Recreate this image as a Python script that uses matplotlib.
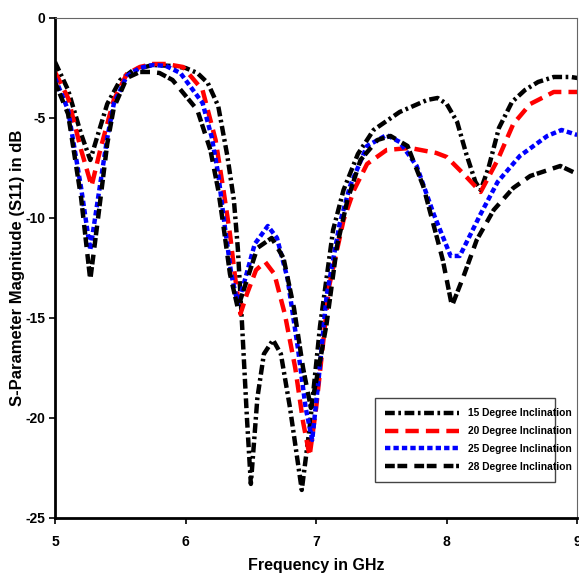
import matplotlib
matplotlib.use('Agg')
import matplotlib.pyplot as plt

plt.rcParams['axes.unicode_minus'] = False

# S11 readings for each inclination angle
f15 = [5.0, 5.1, 5.2, 5.27, 5.33, 5.4, 5.5, 5.6, 5.75, 5.9, 6.0, 6.09, 6.17, 6.25, 6.32, 6.37, 6.4, 6.43,
       6.47, 6.5, 6.55, 6.6, 6.67, 6.73, 6.8, 6.89, 6.95, 7.03, 7.13, 7.21, 7.32, 7.44, 7.64, 7.85, 7.93,
       8.0, 8.08, 8.15, 8.22, 8.26, 8.32, 8.4, 8.5, 8.6, 8.7, 8.82, 8.95, 9.0]
s15 = [-2.2, -3.6, -5.8, -7.1, -5.8, -4.3, -3.1, -2.6, -2.35, -2.4, -2.5, -2.75, -3.25, -4.4, -6.9, -9.1, -11.5, -15.0,
       -20.0, -23.3, -19.0, -16.8, -16.1, -16.8, -19.5, -23.6, -20.5, -15.4, -10.6, -8.6, -6.8, -5.6, -4.7, -4.1, -4.0,
       -4.3, -5.2, -6.8, -8.2, -8.6, -7.5, -5.5, -4.2, -3.6, -3.2, -2.95, -2.95, -3.0]

f20 = [5.0, 5.1, 5.2, 5.28, 5.35, 5.45, 5.55, 5.65, 5.75, 5.85, 5.98, 6.13, 6.23, 6.29, 6.34, 6.38, 6.42, 6.47,
       6.54, 6.61, 6.68, 6.76, 6.84, 6.9, 6.95, 7.0, 7.1, 7.21, 7.29, 7.39, 7.54, 7.72, 7.92, 8.0, 8.13,
       8.26, 8.39, 8.51, 8.64, 8.82, 9.0]
s20 = [-2.7, -4.0, -6.6, -8.4, -6.5, -4.1, -2.8, -2.45, -2.3, -2.3, -2.45, -3.6, -6.1, -8.6, -10.8, -13.0, -14.8, -13.8,
       -12.6, -12.2, -12.8, -14.8, -17.5, -20.2, -21.9, -19.5, -13.4, -10.1, -8.6, -7.3, -6.6, -6.5, -6.75, -6.95, -7.8,
       -8.7, -7.1, -5.3, -4.3, -3.7, -3.7]

f25 = [5.0, 5.1, 5.2, 5.27, 5.33, 5.4, 5.45, 5.55, 5.65, 5.75, 5.85, 5.96, 6.13, 6.2, 6.25, 6.3, 6.35, 6.4,
       6.45, 6.53, 6.63, 6.7, 6.78, 6.86, 6.92, 6.97, 7.02, 7.08, 7.18, 7.26, 7.39, 7.54, 7.64, 7.77, 7.9,
       8.03, 8.1, 8.26, 8.39, 8.56, 8.77, 8.88, 9.0]
s25 = [-3.0, -4.6, -8.5, -11.6, -9.0, -6.0, -4.3, -2.9, -2.5, -2.35, -2.4, -2.75, -4.25, -5.95, -7.8, -10.4, -12.8, -14.3,
       -13.2, -11.3, -10.4, -11.0, -13.0, -16.5, -19.5, -21.1, -18.0, -13.9, -10.3, -8.4, -6.4, -5.85, -6.2, -7.4, -9.8,
       -11.9, -11.9, -9.8, -8.2, -6.9, -5.9, -5.6, -5.85]

f28 = [5.0, 5.1, 5.2, 5.27, 5.33, 5.4, 5.45, 5.55, 5.65, 5.73, 5.8, 5.9, 6.09, 6.19, 6.25, 6.29, 6.34, 6.4,
       6.45, 6.55, 6.66, 6.75, 6.83, 6.9, 6.96, 7.02, 7.08, 7.16, 7.24, 7.34, 7.47, 7.57, 7.7, 7.82, 7.93,
       7.97, 8.04, 8.13, 8.23, 8.36, 8.51, 8.64, 8.87, 9.0]
s28 = [-3.2, -4.8, -9.0, -13.1, -10.0, -6.3, -4.5, -3.0, -2.7, -2.7, -2.75, -3.1, -4.6, -6.6, -8.6, -10.4, -12.8, -14.5,
       -13.5, -11.5, -11.0, -12.0, -14.5, -17.5, -19.5, -17.5, -15.3, -11.4, -9.1, -7.1, -6.1, -5.9, -6.4, -8.4, -11.1,
       -12.1, -14.4, -12.9, -11.1, -9.6, -8.5, -7.9, -7.4, -7.8]

labels = ['15 Degree Inclination', '20 Degree Inclination', '25 Degree Inclination', '28 Degree Inclination']

font = ['Liberation Sans', 'DejaVu Sans']

fig = plt.figure(figsize=(5.79, 5.80), dpi=100)
ax = fig.add_axes([0.095, 0.107, 0.902, 0.862])

lw = 3.2
ax.plot(f15, s15, color='black', lw=lw, dashes=(2.2, 0.8, 0.6, 0.8), label=labels[0])
ax.plot(f20, s20, color='red', lw=lw, dashes=(3.0, 1.6), label=labels[1])
ax.plot(f25, s25, color='blue', lw=lw, dashes=(1.2, 0.7), label=labels[2])
ax.plot(f28, s28, color='black', lw=lw, dashes=(2.2, 0.6, 2.2, 1.6), label=labels[3])

ax.set_xlim(5, 9)
ax.set_ylim(-25, 0)
ax.set_xticks([5, 6, 7, 8, 9])
ax.set_yticks([0, -5, -10, -15, -20, -25])

for s in ['left', 'bottom']:
    ax.spines[s].set_linewidth(2)
for s in ['top', 'right']:
    ax.spines[s].set_linewidth(0.8)
    ax.spines[s].set_color('#666666')

ax.tick_params(direction='out', length=4, width=1.2)
ax.tick_params(axis='x', pad=8)
ax.tick_params(axis='y', pad=3)
for t in ax.get_xticklabels() + ax.get_yticklabels():
    t.set_family(font)
    t.set_fontweight('bold')
    t.set_fontsize(10)

ax.set_xlabel('Frequency in GHz', family=font, fontweight='bold', fontsize=11.5, labelpad=7)
ax.set_ylabel('S-Parameter Magnitude (S11) in dB', fontweight='bold', fontsize=12, family=font)
ax.yaxis.set_label_coords(-0.058, 0.5)

leg = ax.legend(loc='lower left', bbox_to_anchor=(0.603, 0.062, 0.364, 0.18), mode='expand',
                prop={'family': font, 'weight': 'bold', 'size': 7.4}, handlelength=7.2,
                fancybox=False, edgecolor='#444444', framealpha=1, borderpad=1.0, labelspacing=0.75)
leg.get_frame().set_linewidth(1.0)

fig.savefig('out.png', dpi=100)
